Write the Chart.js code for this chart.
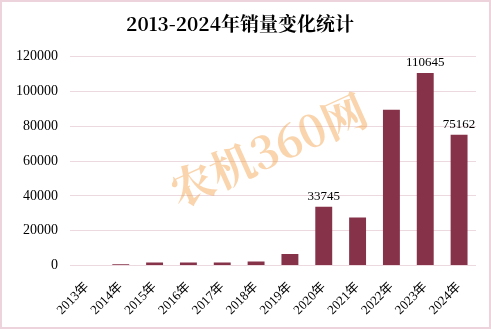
<!DOCTYPE html>
<html>
<head>
<meta charset="utf-8">
<script src="https://cdn.jsdelivr.net/npm/chart.js@4"></script>
<style>
  body { margin: 0; background: #fff; }
  #wrap { width: 491px; height: 329px; }
</style>
</head>
<body>
<div id="wrap"><canvas id="c" width="491" height="329"></canvas></div>
<script>
const years = ['2013年', '2014年', '2015年', '2016年', '2017年', '2018年',
  '2019年', '2020年', '2021年', '2022年', '2023年', '2024年'];
const sales = [0, 600, 1700, 1700, 1700, 2300, 6500, 33745, 27600, 89500, 110645, 75162];
const labelled = ['2020年', '2023年', '2024年'];
const yTicks = [0, 20000, 40000, 60000, 80000, 100000, 120000];

const CJK = '"Liberation Serif", "Noto Sans CJK SC", serif';

// pink frame + watermark behind the bars
const backdrop = {
  id: 'backdrop',
  beforeDatasetsDraw(chart) {
    const ctx = chart.ctx;
    ctx.save();
    ctx.translate(268, 150);
    ctx.rotate(-0.42);
    ctx.font = 'bold 44px "Noto Serif CJK SC", "Noto Sans CJK SC", serif';
    ctx.fillStyle = 'rgba(242, 160, 70, 0.45)';
    ctx.textAlign = 'center';
    ctx.textBaseline = 'middle';
    ctx.fillText('农机360网', 0, 0);
    ctx.restore();
  },
  afterDraw(chart) {
    const ctx = chart.ctx;
    ctx.save();
    ctx.strokeStyle = '#ecd3dc';
    ctx.lineWidth = 2;
    ctx.strokeRect(1, 1, chart.width - 2, chart.height - 2);
    ctx.restore();
  }
};

// value labels above a few bars
const valueLabels = {
  id: 'valueLabels',
  afterDatasetsDraw(chart) {
    const ctx = chart.ctx;
    const meta = chart.getDatasetMeta(0);
    ctx.save();
    ctx.font = '13px ' + CJK;
    ctx.fillStyle = '#000';
    ctx.textAlign = 'center';
    ctx.textBaseline = 'bottom';
    meta.data.forEach((bar, i) => {
      if (labelled.includes(years[i])) {
        ctx.fillText(String(sales[i]), bar.x, bar.y - 4);
      }
    });
    ctx.restore();
  }
};

new Chart(document.getElementById('c'), {
  type: 'bar',
  data: {
    labels: years,
    datasets: [{
      data: sales,
      backgroundColor: '#86334a',
      barPercentage: 0.5,
      categoryPercentage: 1.0
    }]
  },
  options: {
    responsive: false,
    animation: false,
    layout: { padding: { top: 2, right: 15, bottom: 5, left: 4 } },
    plugins: {
      legend: { display: false },
      tooltip: { enabled: false },
      title: {
        display: true,
        text: '2013-2024年销量变化统计',
        color: '#000',
        font: { family: '"Noto Serif CJK SC", "Noto Sans CJK SC", serif', size: 19, weight: 'bold' },
        padding: { top: 10, bottom: 22 }
      }
    },
    scales: {
      x: {
        grid: { display: false },
        border: { display: false },
        ticks: {
          color: '#000',
          font: { family: CJK, size: 13 },
          maxRotation: 45,
          minRotation: 45,
          padding: 6
        }
      },
      y: {
        min: 0,
        max: 120000,
        afterBuildTicks(axis) {
          axis.ticks = yTicks.map(v => ({ value: v }));
        },
        grid: { color: '#ecd9e0', drawTicks: false },
        border: { display: false },
        ticks: {
          color: '#000',
          font: { family: CJK, size: 14 },
          padding: 12,
          callback: v => String(v)
        }
      }
    }
  },
  plugins: [backdrop, valueLabels]
});
</script>
</body>
</html>
